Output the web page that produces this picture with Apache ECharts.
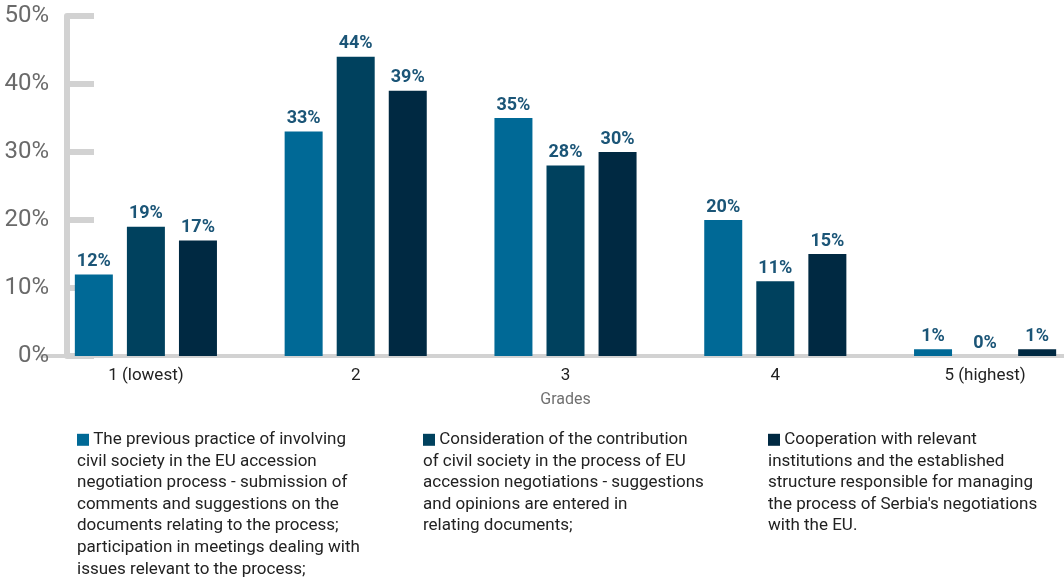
<!DOCTYPE html>
<html>
<head>
<meta charset="utf-8">
<script src="https://cdn.jsdelivr.net/npm/echarts@6/dist/echarts.min.js"></script>
<style>
html,body{margin:0;padding:0;background:#fff;}
#chart{width:1064px;height:578px;}
</style>
</head>
<body>
<div id="chart"></div>
<script>
const categories = ['1 (lowest)', '2', '3', '4', '5 (highest)'];
const seriesNames = [
  'The previous practice of involving civil society in the EU accession negotiation process - submission of comments and suggestions on the documents relating to the process; participation in meetings dealing with issues relevant to the process;',
  'Consideration of the contribution of civil society in the process of EU accession negotiations - suggestions and opinions are entered in relating documents;',
  "Cooperation with relevant institutions and the established structure responsible for managing the process of Serbia's negotiations with the EU."
];
const legendLines = [
  ['The previous practice of involving', 'civil society in the EU accession', 'negotiation process - submission of', 'comments and suggestions on the', 'documents relating to the process;', 'participation in meetings dealing with', 'issues relevant to the process;'],
  ['Consideration of the contribution', 'of civil society in the process of EU', 'accession negotiations - suggestions', 'and opinions are entered in', 'relating documents;'],
  ['Cooperation with relevant', 'institutions and the established', 'structure responsible for managing', "the process of Serbia's negotiations", 'with the EU.']
];
const practiceValues = [12, 33, 35, 20, 1];
const considerationValues = [19, 44, 28, 11, 0];
const cooperationValues = [17, 39, 30, 15, 1];
const yTicks = [0, 10, 20, 30, 40, 50];

const colors = ['#006996', '#00415e', '#002942'];
const allValues = [practiceValues, considerationValues, cooperationValues];
const legendLeft = [72, 418, 763];
const FONT = 'Roboto, "DejaVu Sans", sans-serif';

const chart = echarts.init(document.getElementById('chart'));
chart.setOption({
  animation: false,
  color: colors,
  textStyle: { fontFamily: FONT },
  grid: { left: 41, width: 1049, top: 16, bottom: 222, containLabel: false, outerBoundsMode: 'none' },
  xAxis: {
    type: 'category',
    data: categories,
    name: 'Grades',
    nameLocation: 'middle',
    nameGap: 36,
    nameTextStyle: { color: '#707070', fontSize: 16, fontFamily: FONT },
    axisLine: { lineStyle: { color: '#d2d2d2', width: 4 } },
    axisTick: { show: false },
    axisLabel: { color: '#222', fontSize: 17, margin: 11, fontFamily: FONT }
  },
  yAxis: {
    type: 'value',
    min: 0, max: 50, interval: 10,
    offset: -26,
    axisLine: { show: true, lineStyle: { color: '#d2d2d2', width: 6 } },
    axisTick: { show: true, inside: true, length: 27, lineStyle: { color: '#d2d2d2', width: 6 } },
    splitLine: { show: false },
    axisLabel: {
      color: '#6a6a6a', fontSize: 24, margin: 18, fontFamily: FONT,
      formatter: v => yTicks.includes(v) ? v + '%' : ''
    }
  },
  legend: seriesNames.map((n, i) => ({
    data: [n],
    left: legendLeft[i],
    top: 429,
    padding: 0,
    icon: 'none',
    itemWidth: 0,
    itemHeight: 12,
    orient: 'vertical',
    selectedMode: false,
    formatter: () => '{sq|}{t| ' + legendLines[i][0] + '}\n' + legendLines[i].slice(1).map(l => '{t|' + l + '}').join('\n'),
    textStyle: {
      color: '#222', fontSize: 17, lineHeight: 21.6, fontFamily: FONT,
      rich: {
        sq: { width: 12, height: 12, backgroundColor: colors[i], verticalAlign: 'middle' },
        t: { color: '#222', fontSize: 17, lineHeight: 21.6, fontFamily: FONT }
      }
    }
  })),
  series: seriesNames.map((n, i) => ({
    name: n,
    type: 'bar',
    data: allValues[i],
    barWidth: 38,
    barGap: '37%',
    itemStyle: { color: colors[i] },
    label: {
      show: true, position: 'top', distance: 4,
      formatter: p => p.value + '%',
      color: '#1b5577', fontSize: 18, fontWeight: 'bold', fontFamily: FONT
    }
  }))
});
</script>
</body>
</html>
